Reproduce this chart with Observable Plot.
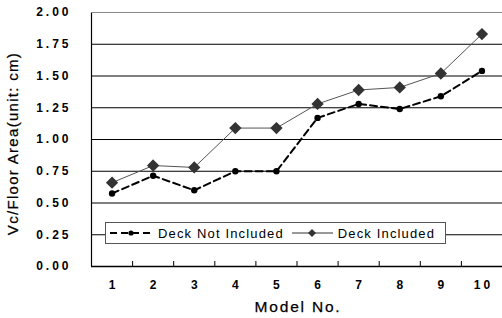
<!DOCTYPE html>
<html>
<head>
<meta charset="utf-8">
<script src="https://cdn.jsdelivr.net/npm/d3@7"></script>
<script src="https://cdn.jsdelivr.net/npm/@observablehq/plot@0.6"></script>
<style>
  html, body { margin: 0; padding: 0; background: #fff; }
  #wrap { position: relative; width: 502px; height: 318px; overflow: hidden; font-family: "Liberation Sans", Arial, sans-serif; }
  #legend { position: absolute; left: 105px; top: 222px; width: 339px; height: 20px; border: 1px solid #555; background: #fff;
    display: flex; align-items: center; font-size: 13px; letter-spacing: 1.15px; color: #000; box-sizing: content-box; }
  #legend svg { display: block; }
  .item { display: flex; align-items: center; }
</style>
</head>
<body>
<div id="wrap"></div>
<script>
const models = [1, 2, 3, 4, 5, 6, 7, 8, 9, 10];
const deckNotIncluded = [0.575, 0.715, 0.60, 0.75, 0.75, 1.17, 1.28, 1.24, 1.34, 1.54];
const deckIncluded = [0.66, 0.795, 0.78, 1.09, 1.09, 1.28, 1.39, 1.41, 1.52, 1.83];
const yTicks = [0, 0.25, 0.5, 0.75, 1.0, 1.25, 1.5, 1.75, 2.0];
const xBoundaries = [1.5, 2.5, 3.5, 4.5, 5.5, 6.5, 7.5, 8.5, 9.5];
const seriesNames = ["Deck Not Included", "Deck Included"];
const yLabel = "Vc/Floor Area(unit: cm)";
const xLabel = "Model No.";

const notInc = models.map((m, i) => ({model: m, value: deckNotIncluded[i]}));
const inc = models.map((m, i) => ({model: m, value: deckIncluded[i]}));

const chart = Plot.plot({
  width: 502,
  height: 318,
  marginLeft: 91,
  marginRight: 0,
  marginTop: 12,
  marginBottom: 52,
  style: {fontFamily: "'Liberation Sans', Arial, sans-serif", background: "#fff", overflow: "visible"},
  x: {type: "linear", domain: [0.5, 10.5]},
  y: {domain: [0, 2]},
  marks: [
    Plot.gridY(yTicks, {stroke: "#000", strokeOpacity: 1, strokeWidth: 1}),
    Plot.axisY(yTicks, {tickSize: 0, tickPadding: 20, tickFormat: d3.format(".2f"), fontSize: 12, fontWeight: "bold", label: null}),
    Plot.axisX(models, {tickSize: 0, tickPadding: 14, dx: 1.5, fontSize: 12, fontWeight: "bold", label: null}),
    Plot.axisX(xBoundaries, {tickSize: -5, tickFormat: () => "", label: null, stroke: "#000"}),
    Plot.ruleX([0.5], {stroke: "#000", strokeWidth: 1.2}),
    Plot.ruleY([0], {stroke: "#000", strokeWidth: 1.6}),
    Plot.ruleY([2], {stroke: "#888", strokeWidth: 1.2}),
    Plot.text([yLabel], {frameAnchor: "left", textAnchor: "middle", dx: -78, dy: 4, rotate: -90, text: d => d, fontSize: 15, fill: "#000", stroke: "#000", strokeWidth: 0.25}),
    Plot.text([xLabel], {frameAnchor: "bottom", textAnchor: "middle", dx: 1, dy: 45, text: d => d, fontSize: 15.5, fill: "#000", stroke: "#000", strokeWidth: 0.25}),
    Plot.line(inc, {x: "model", y: "value", stroke: "#555", strokeWidth: 1}),
    Plot.dot(inc, {x: "model", y: "value", symbol: "diamond2", r: 4.6, fill: "#333", stroke: "#333"}),
    Plot.line(notInc, {x: "model", y: "value", stroke: "#000", strokeWidth: 2, strokeDasharray: "7,4"}),
    Plot.dot(notInc, {x: "model", y: "value", r: 3.2, fill: "#000"})
  ]
});
const wrap = document.getElementById("wrap");
wrap.appendChild(chart);

// letter spacing for the SVG texts
const svg = d3.select(chart);
svg.selectAll('[aria-label="y-axis tick label"] text').attr("letter-spacing", "3px");
svg.selectAll('[aria-label="x-axis tick label"] text').attr("letter-spacing", "3px");
svg.selectAll('[aria-label="text"] text').each(function() {
  const t = d3.select(this);
  if (t.text() === yLabel) t.attr("letter-spacing", "1.3px");
  if (t.text() === xLabel) t.attr("letter-spacing", "1.8px");
});

const legend = document.createElement("div");
legend.id = "legend";
legend.innerHTML = `
  <div class="item" style="margin-left:4px">
    <svg width="43" height="10"><line x1="0" y1="5" x2="43" y2="5" stroke="#000" stroke-width="2" stroke-dasharray="7,4"/><circle cx="21" cy="5" r="2.6" fill="#000"/></svg>
    <span style="margin-left:5px">${seriesNames[0]}</span>
  </div>
  <div class="item" style="margin-left:8px">
    <svg width="41" height="10"><line x1="0" y1="5" x2="41" y2="5" stroke="#333" stroke-width="1"/><path d="M20,1 L24,5 L20,9 L16,5 Z" fill="#333"/></svg>
    <span style="margin-left:5px">${seriesNames[1]}</span>
  </div>`;
wrap.appendChild(legend);
</script>
</body>
</html>
